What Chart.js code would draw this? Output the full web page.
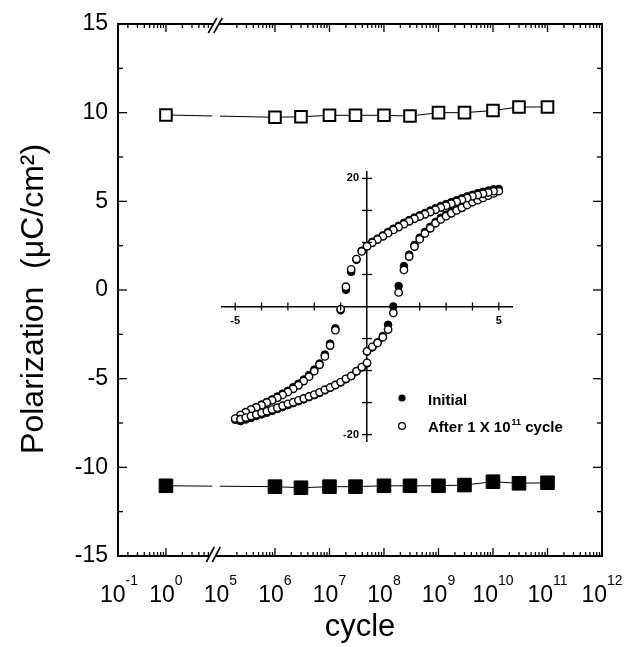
<!DOCTYPE html>
<html><head><meta charset="utf-8">
<script src="https://cdn.jsdelivr.net/npm/chart.js@4/dist/chart.umd.min.js"></script>
<style>
html,body{margin:0;padding:0;background:#fff;}
#wrap{position:relative;width:627px;height:647px;overflow:hidden;}
#main{position:absolute;left:0;top:0;}
#inset{position:absolute;left:200px;top:150px;}
</style></head><body>
<div id="wrap"><canvas id="main" width="627" height="647"></canvas><canvas id="inset" width="420" height="310"></canvas></div>
<script>
// ---------------- main chart data ----------------
const cycleCounts = [1, 1e6, 3e6, 1e7, 3e7, 1e8, 3e8, 1e9, 3e9, 1e10, 3e10, 1e11];
const polPositive = [9.87, 9.74, 9.77, 9.85, 9.85, 9.85, 9.81, 10.0, 10.0, 10.12, 10.32, 10.32];
const polNegative = [-11.04, -11.09, -11.15, -11.09, -11.09, -11.04, -11.04, -11.04, -11.0, -10.81, -10.9, -10.87];
const xTickExponents = [-1, 0, 5, 6, 7, 8, 9, 10, 11, 12];
const yTicks = [-15, -10, -5, 0, 5, 10, 15];

// ---------------- inset (hysteresis loop) data ----------------
const fieldSweep = [0, 0.2, 0.4, 0.6, 0.8, 1.0, 1.2, 1.4, 1.6, 1.8, 2.0, 2.2, 2.4, 2.6, 2.8, 3.0, 3.2, 3.4, 3.6, 3.8, 4.0, 4.2, 4.4, 4.6, 4.8, 5.0,
  4.8, 4.6, 4.4, 4.2, 4.0, 3.8, 3.6, 3.4, 3.2, 3.0, 2.8, 2.6, 2.4, 2.2, 2.0, 1.8, 1.6, 1.4, 1.2, 1.0, 0.8, 0.6, 0.4, 0.2, 0.0,
  -0.2, -0.4, -0.6, -0.8, -1.0, -1.2, -1.4, -1.6, -1.8, -2.0, -2.2, -2.4, -2.6, -2.8, -3.0, -3.2, -3.4, -3.6, -3.8, -4.0, -4.2, -4.4, -4.6, -4.8, -5.0,
  -4.8, -4.6, -4.4, -4.2, -4.0, -3.8, -3.6, -3.4, -3.2, -3.0, -2.8, -2.6, -2.4, -2.2, -2.0, -1.8, -1.6, -1.4, -1.2, -1.0, -0.8, -0.6, -0.4, -0.2, 0.0];
const polInitial = [-7.0, -6.4, -5.6, -4.6, -2.85, 0.0, 3.2, 6.3, 8.1, 9.6, 10.75, 11.65, 12.45, 13.2, 13.85, 14.35, 14.8, 15.25, 15.7, 16.15, 16.55, 16.9, 17.3, 17.65, 18.0, 18.35,
  18.3, 18.1, 17.9, 17.7, 17.45, 17.2, 16.9, 16.6, 16.3, 16.0, 15.7, 15.35, 15.0, 14.6, 14.25, 13.9, 13.5, 13.05, 12.6, 12.15, 11.65, 11.1, 10.6, 10.1, 9.5,
  8.7, 7.3, 5.4, 2.6, -0.6, -3.4, -5.8, -7.5, -8.9, -9.85, -10.7, -11.4, -12.05, -12.6, -13.15, -13.6, -14.05, -14.5, -14.9, -15.3, -15.7, -16.1, -16.55, -17.05, -17.7,
  -17.9, -17.65, -17.4, -17.1, -16.85, -16.6, -16.3, -16.0, -15.7, -15.4, -15.1, -14.8, -14.5, -14.15, -13.85, -13.5, -13.1, -12.7, -12.3, -11.85, -11.35, -10.85, -10.15, -9.5, -8.9];
const polCycled = [-7.0, -6.3, -5.7, -4.8, -3.6, -1.0, 2.2, 5.7, 7.8, 9.35, 10.5, 11.4, 12.2, 13.0, 13.6, 14.1, 14.55, 15.0, 15.4, 15.85, 16.3, 16.6, 16.95, 17.3, 17.65, 18.0,
  18.0, 17.8, 17.6, 17.4, 17.2, 16.95, 16.65, 16.35, 16.05, 15.75, 15.45, 15.1, 14.75, 14.4, 14.05, 13.7, 13.3, 12.85, 12.4, 11.95, 11.45, 10.95, 10.45, 9.95, 9.4,
  8.6, 7.4, 5.8, 3.1, -0.4, -3.7, -6.1, -7.8, -9.1, -10.1, -10.95, -11.65, -12.3, -12.85, -13.35, -13.8, -14.25, -14.65, -15.0, -15.4, -15.75, -16.1, -16.5, -16.95, -17.5,
  -17.6, -17.35, -17.1, -16.85, -16.6, -16.35, -16.1, -15.8, -15.5, -15.2, -14.95, -14.65, -14.35, -14.05, -13.75, -13.4, -13.0, -12.65, -12.25, -11.8, -11.3, -10.85, -10.1, -9.45, -8.8];
const insetXTicks = [-5, -4, -3, -2, -1, 1, 2, 3, 4, 5];
const insetYTicks = [-20, -15, -10, -5, 5, 10, 15, 20];
const insetXLabels = [-5, 5];
const insetYLabels = [-20, 20];
const legendLabels = ['Initial', 'After 1 X 10', '11', ' cycle'];

// ---------------- helpers ----------------
const FONT = "'Liberation Sans', Arial, Helvetica, sans-serif";
// broken log axis: decades below 10^0 kept, 10^1..10^4 removed
function expToPos(e) { return e <= 0 ? e : e - 4; }
function cyclePos(c) { return expToPos(Math.log10(c)); }
const BREAK_FROM = 0.85, BREAK_TO = 0.99;

const mainDecor = {
  id: 'mainDecor',
  afterDraw(chart) {
    const {ctx, chartArea: a, scales: {x, y}} = chart;
    ctx.save();
    const bx0 = x.getPixelForValue(BREAK_FROM), bx1 = x.getPixelForValue(BREAK_TO);
    // gap of the data lines at the axis break
    ctx.fillStyle = '#fff';
    ctx.fillRect(bx0, a.top + 2, bx1 - bx0, a.bottom - a.top - 4);
    // frame
    ctx.strokeStyle = '#000';
    ctx.lineWidth = 2;
    ctx.strokeRect(a.left, a.top, a.right - a.left, a.bottom - a.top);
    const line = (x1, y1, x2, y2) => { ctx.beginPath(); ctx.moveTo(x1, y1); ctx.lineTo(x2, y2); ctx.stroke(); };
    // x ticks (inward, top & bottom)
    ctx.lineWidth = 1.3;
    for (let d = -1; d <= 7; d++) {
      for (let k = 1; k <= 9; k++) {
        const p = d + Math.log10(k);
        if (p <= x.min + 0.01 || p >= x.max - 0.01) continue;
        const px = x.getPixelForValue(p);
        if (px > bx0 - 3 && px < bx1 + 1) continue;
        const len = k === 1 ? 8 : 4;
        line(px, a.bottom, px, a.bottom - len);
        line(px, a.top, px, a.top + len);
      }
    }
    // y ticks (inward, left & right)
    for (let v = -12.5; v <= 12.5; v += 2.5) {
      const py = y.getPixelForValue(v);
      const len = (v % 5 === 0) ? 9 : 5;
      line(a.left, py, a.left + len, py);
      line(a.right, py, a.right - len, py);
    }
    // axis break marks
    ctx.fillStyle = '#fff';
    ctx.fillRect(bx0 + 1, a.top - 2, 5.5, 4);
    ctx.fillRect(bx0 - 3, a.bottom - 2, 6, 4);
    ctx.lineWidth = 1.6;
    line(bx0 - 4, a.top + 9, bx0 + 4.5, a.top - 6);
    line(bx0 + 1.5, a.top + 9, bx0 + 10, a.top - 6);
    line(bx0 - 6, a.bottom + 6, bx0 + 2, a.bottom - 9);
    line(bx0, a.bottom + 6, bx0 + 8, a.bottom - 9);
    // x tick labels 10^n
    ctx.fillStyle = '#000';
    ctx.textBaseline = 'alphabetic';
    ctx.textAlign = 'left';
    const big = '23px ' + FONT, small = '14px ' + FONT;
    xTickExponents.forEach(e => {
      let cx = x.getPixelForValue(expToPos(e));
      if (cx < a.left) cx = a.left + 1;
      ctx.font = big; const wb = ctx.measureText('10').width;
      ctx.font = small; const ws = ctx.measureText(String(e)).width;
      const x0 = cx - (wb + ws) / 2;
      ctx.font = big; ctx.fillText('10', x0, 602);
      ctx.font = small; ctx.fillText(String(e), x0 + wb, 585);
    });
    ctx.restore();
  }
};

const styleUp = {pointStyle: 'rect', pointRadius: 8.2, pointHoverRadius: 8.2, pointBackgroundColor: '#fff', pointBorderColor: '#000', pointBorderWidth: 2};
const styleDown = {pointStyle: 'rect', pointRadius: 9.6, pointHoverRadius: 9.6, pointBackgroundColor: '#000', pointBorderColor: '#000', pointBorderWidth: 1};

new Chart(document.getElementById('main'), {
  type: 'scatter',
  data: {
    datasets: [
      Object.assign({label: '+Pr', data: cycleCounts.map((c, i) => ({x: cyclePos(c), y: polPositive[i]})), showLine: true, borderColor: '#000', borderWidth: 1}, styleUp),
      Object.assign({label: '-Pr', data: cycleCounts.map((c, i) => ({x: cyclePos(c), y: polNegative[i]})), showLine: true, borderColor: '#000', borderWidth: 1}, styleDown)
    ]
  },
  options: {
    responsive: false, animation: false, devicePixelRatio: 1,
    layout: {padding: {left: 0, right: 25, top: 24, bottom: 0}},
    plugins: {legend: {display: false}, tooltip: {enabled: false}},
    scales: {
      x: {
        type: 'linear', min: -0.88, max: 8,
        grid: {display: false, drawTicks: false}, border: {display: false},
        ticks: {display: false},
        afterFit(s) { s.height = 91; },
        title: {display: true, text: 'cycle', color: '#000', font: {family: FONT, size: 31}, padding: {top: 0, bottom: 1}}
      },
      y: {
        type: 'linear', min: -15, max: 15,
        grid: {display: false, drawTicks: false}, border: {display: false},
        afterBuildTicks(s) { s.ticks = yTicks.map(v => ({value: v})); },
        ticks: {color: '#000', font: {family: FONT, size: 23}, padding: 10},
        afterFit(s) { s.width = 118; },
        title: {display: true, text: 'Polarization  (\u03bcC/cm\u00b2)  ', color: '#000', font: {family: FONT, size: 32}, padding: {top: 15, bottom: 0}}
      }
    }
  },
  plugins: [mainDecor]
});

// ---------------- inset ----------------
const INSET_L = 200, INSET_T = 150;
const insetDecor = {
  id: 'insetDecor',
  afterDraw(chart) {
    const {ctx, scales: {x, y}} = chart;
    const x0 = x.getPixelForValue(0), y0 = y.getPixelForValue(0);
    ctx.save();
    ctx.strokeStyle = '#000'; ctx.fillStyle = '#000';
    ctx.lineWidth = 1.3;
    const line = (x1, y1, x2, y2) => { ctx.beginPath(); ctx.moveTo(x1, y1); ctx.lineTo(x2, y2); ctx.stroke(); };
    insetXTicks.forEach(v => { const px = x.getPixelForValue(v); line(px, y0 - 4, px, y0 + 4); });
    insetYTicks.forEach(v => { const py = y.getPixelForValue(v); line(x0 - 5, py, x0 + 5, py); });
    ctx.font = 'bold 11px ' + FONT;
    ctx.textAlign = 'center'; ctx.textBaseline = 'top';
    insetXLabels.forEach(v => ctx.fillText(String(v), x.getPixelForValue(v), y0 + 9));
    ctx.textAlign = 'right'; ctx.textBaseline = 'middle';
    insetYLabels.forEach(v => ctx.fillText(String(v), x0 - 8, y.getPixelForValue(v)));
    // legend
    const lx = 402 - INSET_L, ly1 = 398 - INSET_T, ly2 = 426 - INSET_T;
    ctx.beginPath(); ctx.arc(lx, ly1, 3.6, 0, Math.PI * 2); ctx.fill();
    ctx.beginPath(); ctx.arc(lx, ly2, 3.4, 0, Math.PI * 2); ctx.lineWidth = 1.3; ctx.stroke();
    ctx.textAlign = 'left'; ctx.textBaseline = 'alphabetic';
    const tx = 428 - INSET_L;
    ctx.font = 'bold 15px ' + FONT;
    ctx.fillText(legendLabels[0], tx, 405 - INSET_T);
    ctx.fillText(legendLabels[1], tx, 432 - INSET_T);
    let w = ctx.measureText(legendLabels[1]).width;
    ctx.font = 'bold 9px ' + FONT;
    ctx.fillText(legendLabels[2], tx + w + 1, 425 - INSET_T);
    w += ctx.measureText(legendLabels[2]).width + 1;
    ctx.font = 'bold 15px ' + FONT;
    ctx.fillText(legendLabels[3], tx + w, 432 - INSET_T);
    ctx.restore();
  }
};

new Chart(document.getElementById('inset'), {
  type: 'scatter',
  data: {
    datasets: [
      {label: 'Initial', data: fieldSweep.map((e, i) => ({x: e, y: polInitial[i]})), order: 2,
        pointRadius: 3.8, pointHoverRadius: 3.8, pointBackgroundColor: '#000', pointBorderColor: '#000', pointBorderWidth: 1},
      {label: 'After 1 X 10\u00b9\u00b9 cycle', data: fieldSweep.map((e, i) => ({x: e, y: polCycled[i]})), order: 1,
        pointRadius: 3.7, pointHoverRadius: 3.7, pointBackgroundColor: '#fff', pointBorderColor: '#000', pointBorderWidth: 1.4}
    ]
  },
  options: {
    responsive: false, animation: false, devicePixelRatio: 1,
    layout: {padding: {left: 22, right: 108, top: 22, bottom: 19}},
    plugins: {legend: {display: false}, tooltip: {enabled: false}},
    scales: {
      x: {type: 'linear', min: -5.5, max: 5.5, position: {y: 0},
        grid: {display: false, drawTicks: false}, ticks: {display: false},
        border: {display: true, color: '#000', width: 1.5}},
      y: {type: 'linear', min: -21, max: 21, position: {x: 0},
        grid: {display: false, drawTicks: false}, ticks: {display: false},
        border: {display: true, color: '#000', width: 1.5}}
    }
  },
  plugins: [insetDecor]
});
</script>
</body></html>
